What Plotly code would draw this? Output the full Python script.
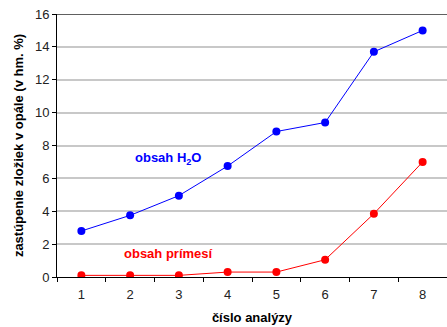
import plotly.graph_objects as go

# Analysis numbers and measured contents (wt. %)
analyzy = ["1", "2", "3", "4", "5", "6", "7", "8"]
obsah_h2o = [2.8, 3.75, 4.95, 6.75, 8.85, 9.4, 13.7, 15.0]
obsah_primesi = [0.1, 0.1, 0.1, 0.3, 0.3, 1.05, 3.85, 7.0]
y_ticks = [0, 2, 4, 6, 8, 10, 12, 14, 16]

FONT = "Arial, Liberation Sans, sans-serif"

fig = go.Figure()
fig.add_trace(go.Scatter(
    x=analyzy, y=obsah_h2o, mode="lines+markers",
    line=dict(color="#0000ff", width=1),
    marker=dict(color="#0000ff", size=8),
    showlegend=False,
))
fig.add_trace(go.Scatter(
    x=analyzy, y=obsah_primesi, mode="lines+markers",
    line=dict(color="#ff0000", width=1),
    marker=dict(color="#ff0000", size=8),
    showlegend=False,
))

fig.update_layout(
    width=447, height=327,
    margin=dict(l=57, r=0, t=14, b=50),
    paper_bgcolor="white", plot_bgcolor="white",
    font=dict(family=FONT, size=13, color="#222222"),
    xaxis=dict(
        type="category", range=[-0.5, 7.5],
        tickson="boundaries", ticks="outside", ticklen=4,
        tickcolor="black", showline=True, linecolor="black", linewidth=1,
        showgrid=False, zeroline=False, ticklabelstandoff=5,
        tickfont=dict(size=13, color="#222222"),
        title=dict(text="<b>číslo analýzy</b>", font=dict(size=13, color="#000000"), standoff=12),
    ),
    yaxis=dict(
        range=[0, 16], tickvals=y_ticks,
        ticks="outside", ticklen=4, tickcolor="black",
        showline=True, linecolor="black", linewidth=1,
        showgrid=True, gridcolor="#c8c8c8", gridwidth=1.5,
        zeroline=False,
        tickfont=dict(size=13, color="#222222"),
        title=dict(text="<b>zastúpenie zložiek v opále (v hm. %)</b>",
                   font=dict(size=13, color="#000000"), standoff=8),
    ),
    shapes=[dict(type="line", xref="paper", yref="y", x0=0, x1=1, y0=16, y1=16,
                 line=dict(color="#606060", width=2))],
    annotations=[
        dict(text="<b>obsah H</b><sub><b>2</b></sub><b>O</b>", xref="paper", yref="paper",
             x=0.285, y=0.449, xanchor="center", yanchor="middle", showarrow=False,
             font=dict(family=FONT, size=13, color="#0000ff")),
        dict(text="<b>obsah prímesí</b>", xref="paper", yref="paper",
             x=0.287, y=0.091, xanchor="center", yanchor="middle", showarrow=False,
             font=dict(family=FONT, size=13, color="#ff0000")),
    ],
)

fig.write_html("out.html")
